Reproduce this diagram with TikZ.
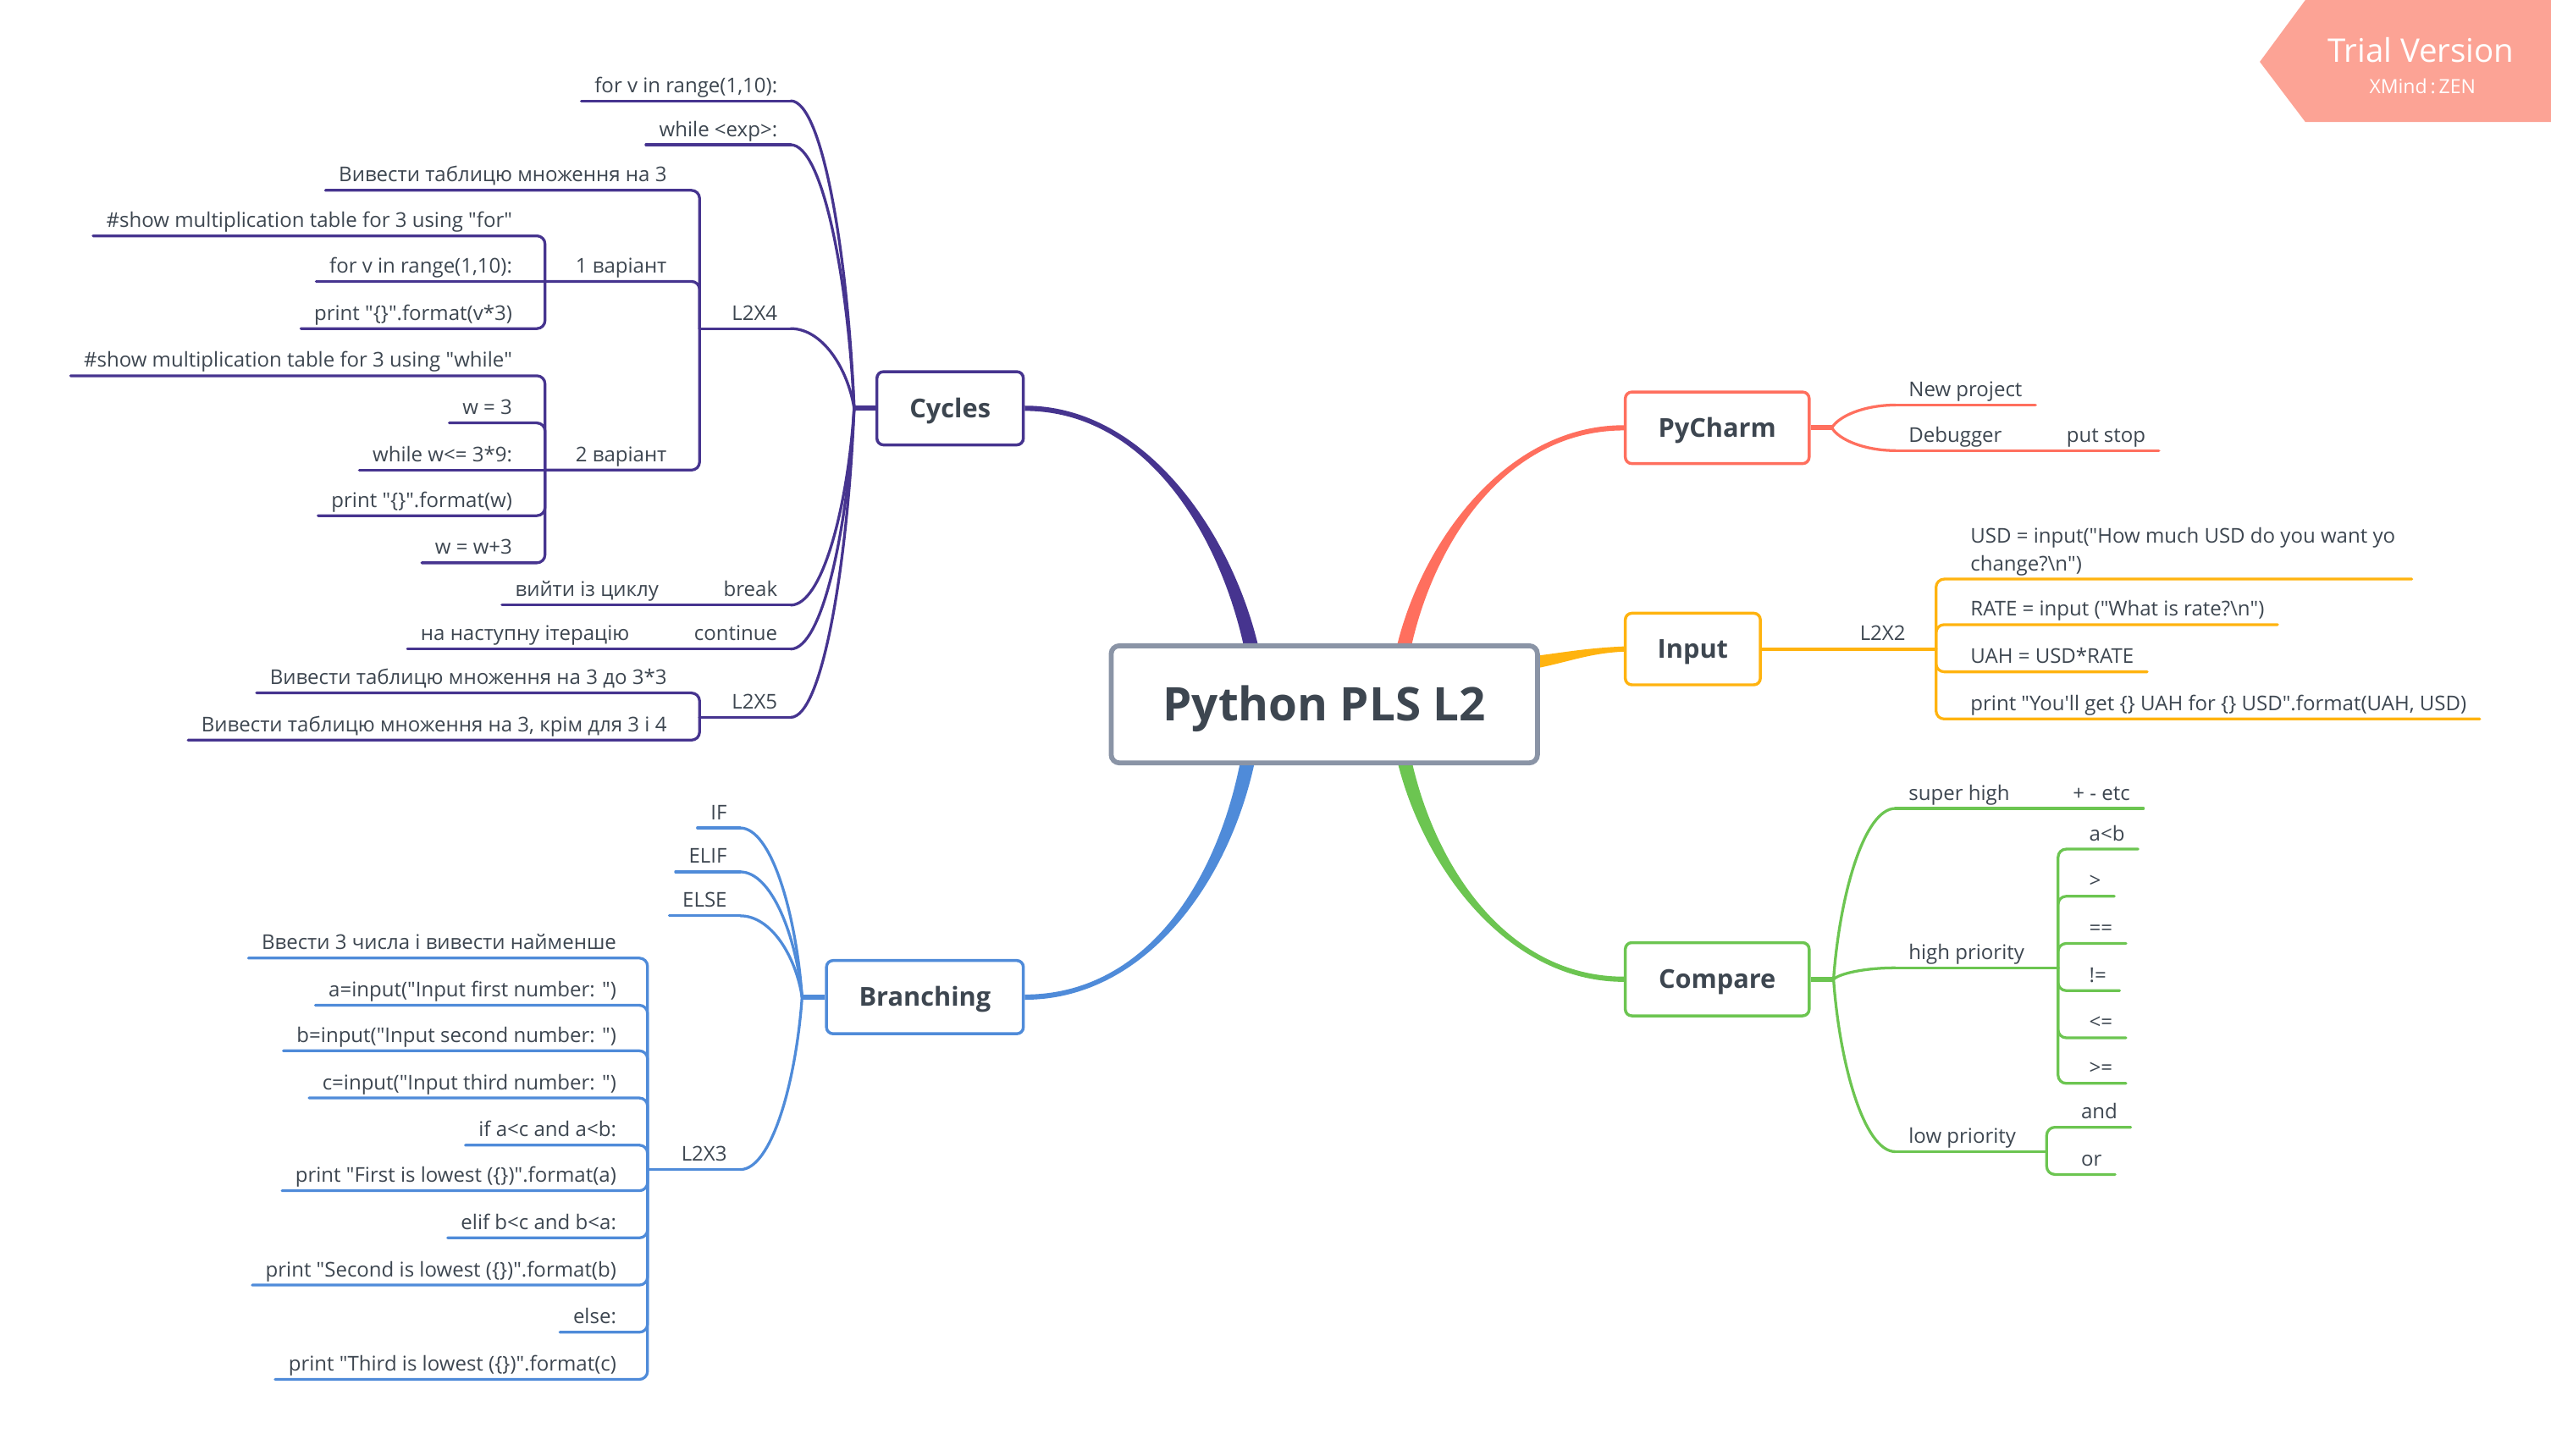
\documentclass[tikz,border=0pt]{standalone}
\usepackage{fontspec}
\setmainfont{Open Sans}
\usetikzlibrary{calc}
\definecolor{cpur}{HTML}{46348F}
\definecolor{cora}{HTML}{FF6F5E}
\definecolor{yel}{HTML}{FFB30F}
\definecolor{grn}{HTML}{6CC551}
\definecolor{blu}{HTML}{4F8BD9}
\definecolor{cbord}{HTML}{8A94A6}
\definecolor{txt}{HTML}{3D4650}
\definecolor{badge}{HTML}{FCA395}
\newcommand\q{\textquotedbl}
\tikzset{
  lf/.style={font=\fontsize{12.5}{17}\selectfont, text=txt, inner xsep=8pt, inner ysep=2pt, text height=9.5pt, text depth=3pt},
  lL/.style={lf, anchor=south east},
  lR/.style={lf, anchor=south west},
  topic/.style={draw, line width=1.8pt, rounded corners=4pt, fill=white, font=\fontsize{16}{19}\selectfont\bfseries, text=txt, inner sep=0pt, text height=11.5pt, text depth=0pt},
  ln/.style={line width=1.7pt, line cap=round},
  stub/.style={line width=3pt},
  elb/.style={line width=1.7pt, rounded corners=5pt, line cap=round},
}
\newcommand\crv[3]{\draw[ln,#1] let \p1=(#2), \p2=(#3) in (\p1) .. controls ({\x1+0.5*(\x2-\x1)},\y1) and ({\x2-0.1*(\x2-\x1)},{0.5*(\y1+\y2)}) .. (\p2);}
\begin{document}
\begin{tikzpicture}[x=1pt,y=-1pt]
\useasboundingbox (0,0) rectangle (1568,894.6);

% ---------- topic boxes (placed first for names) ----------
\node[topic, draw=cpur, minimum width=90pt, minimum height=45pt] (cyc) at (584,251) {Cycles};
\node[topic, draw=cora, minimum width=113pt, minimum height=44pt] (pyc) at (1055.5,263) {PyCharm};
\node[topic, draw=yel, minimum width=83pt, minimum height=44pt] (inp) at (1040.5,399) {Input};
\node[topic, draw=grn, minimum width=113pt, minimum height=45pt] (cmp) at (1055.5,602) {Compare};
\node[topic, draw=blu, minimum width=121pt, minimum height=45pt] (brn) at (568.5,613) {Branching};

% ---------- main tapered connectors ----------
\fill[cpur] ($(cyc.east)+(0,-1.6)$) .. controls (705,249.4) and (759,330) .. (774.5,402) -- (765.5,402) .. controls (751,330) and (705,252.6) .. ($(cyc.east)+(0,1.6)$) -- cycle;
\fill[cora] ($(pyc.west)+(0,-1.6)$) .. controls (925,261.4) and (872,335) .. (857.5,402) -- (866.5,402) .. controls (880,335) and (925,264.6) .. ($(pyc.west)+(0,1.6)$) -- cycle;
\fill[grn] ($(cmp.west)+(0,1.6)$) .. controls (925,603.6) and (872,530) .. (857.5,462) -- (866.5,462) .. controls (880,530) and (925,600.4) .. ($(cmp.west)+(0,-1.6)$) -- cycle;
\fill[blu] ($(brn.east)+(0,1.6)$) .. controls (705,614.6) and (758,540) .. (772.5,462) -- (763.5,462) .. controls (750,540) and (705,611.4) .. ($(brn.east)+(0,-1.6)$) -- cycle;
\fill[yel] ($(inp.west)+(0,-1.6)$) .. controls (975,398.4) and (962,401) .. (938,404) -- (938,412) .. controls (962,408) and (975,401.6) .. ($(inp.west)+(0,1.6)$) -- cycle;

% central
\node[draw=cbord, line width=3pt, rounded corners=5pt, fill=white, minimum width=262pt, minimum height=72pt, inner sep=0pt, font=\fontsize{28.5}{32}\selectfont\bfseries, text=txt, text height=20.5pt, text depth=0pt] (root) at (814,433) {Python PLS L2};

% ---------- Cycles ----------
\coordinate (jc) at (525,251);
\draw[stub,cpur] (cyc.west) -- (jc);
\node[lL] (c1) at (486,62) {for v in range(1,10):};
\draw[ln,cpur] (c1.south west) -- (c1.south east); \crv{cpur}{c1.south east}{jc}
\node[lL] (c2) at (486,89) {while <exp>:};
\draw[ln,cpur] (c2.south west) -- (c2.south east); \crv{cpur}{c2.south east}{jc}
\node[lL] (c3) at (486,202) {L2X4};
\coordinate (j3) at (430,202);
\draw[ln,cpur] (j3) -- (c3.south east); \crv{cpur}{c3.south east}{jc}
\node[lL] (c3a) at (418,117) {Вивести таблицю множення на 3};
\draw[elb,cpur] (j3) |- (c3a.south west);
\node[lL] (c3b) at (418,173) {1 варіант};
\coordinate (j3b) at (335,173);
\draw[elb,cpur] (j3) |- (j3b);
\node[lL] (c3c) at (418,289) {2 варіант};
\coordinate (j3c) at (335,289);
\draw[elb,cpur] (j3) |- (j3c);
\node[lL] (c3b1) at (323,145) {\#show multiplication table for 3 using \q for\q};
\draw[elb,cpur] (j3b) |- (c3b1.south west);
\node[lL] (c3b2) at (323,173) {for v in range(1,10):};
\draw[ln,cpur] (j3b) -- (c3b2.south west);
\node[lL] (c3b3) at (323,202) {print \q\{\}\q.format(v*3)};
\draw[elb,cpur] (j3b) |- (c3b3.south west);
\node[lL] (c3c1) at (323,231) {\#show multiplication table for 3 using \q while\q};
\draw[elb,cpur] (j3c) |- (c3c1.south west);
\node[lL] (c3c2) at (323,260) {w = 3};
\draw[elb,cpur] (j3c) |- (c3c2.south west);
\node[lL] (c3c3) at (323,289) {while w<= 3*9:};
\draw[ln,cpur] (j3c) -- (c3c3.south west);
\node[lL] (c3c4) at (323,317) {print \q\{\}\q.format(w)};
\draw[elb,cpur] (j3c) |- (c3c4.south west);
\node[lL] (c3c5) at (323,346) {w = w+3};
\draw[elb,cpur] (j3c) |- (c3c5.south west);
\node[lL] (c4) at (486,372) {break};
\node[lL] (c4a) at (413,372) {вийти із циклу};
\draw[ln,cpur] (c4a.south west) -- (c4.south east); \crv{cpur}{c4.south east}{jc}
\node[lL] (c5) at (486,399) {continue};
\node[lL] (c5a) at (395,399) {на наступну ітерацію};
\draw[ln,cpur] (c5a.south west) -- (c5.south east); \crv{cpur}{c5.south east}{jc}
\node[lL] (c6) at (486,441) {L2X5};
\coordinate (j6) at (430,441);
\draw[ln,cpur] (j6) -- (c6.south east); \crv{cpur}{c6.south east}{jc}
\node[lL] (c6a) at (418,426) {Вивести таблицю множення на 3 до 3*3};
\draw[elb,cpur] (j6) |- (c6a.south west);
\node[lL] (c6b) at (418,455) {Вивести таблицю множення на 3, крім для 3 і 4};
\draw[elb,cpur] (j6) |- (c6b.south west);

% ---------- Branching ----------
\coordinate (jb) at (493,613);
\draw[stub,blu] (brn.west) -- (jb);
\node[lL] (b1) at (455,509) {IF};
\draw[ln,blu] (b1.south west) -- (b1.south east); \crv{blu}{b1.south east}{jb}
\node[lL] (b2) at (455,536) {ELIF};
\draw[ln,blu] (b2.south west) -- (b2.south east); \crv{blu}{b2.south east}{jb}
\node[lL] (b3) at (455,563) {ELSE};
\draw[ln,blu] (b3.south west) -- (b3.south east); \crv{blu}{b3.south east}{jb}
\node[lL] (b4) at (455,719) {L2X3};
\coordinate (j4) at (398,719);
\draw[ln,blu] (j4) -- (b4.south east); \crv{blu}{b4.south east}{jb}
\node[lL] (b4a) at (387,589) {Ввести 3 числа і вивести найменше};
\draw[elb,blu] (j4) |- (b4a.south west);
\node[lL] (b4b) at (387,618) {a=input(\q Input first number: \q)};
\draw[elb,blu] (j4) |- (b4b.south west);
\node[lL] (b4c) at (387,646) {b=input(\q Input second number: \q)};
\draw[elb,blu] (j4) |- (b4c.south west);
\node[lL] (b4d) at (387,675) {c=input(\q Input third number: \q)};
\draw[elb,blu] (j4) |- (b4d.south west);
\node[lL] (b4e) at (387,704) {if a<c and a<b:};
\draw[elb,blu] (j4) |- (b4e.south west);
\node[lL] (b4f) at (387,732) {print \q First is lowest (\{\})\q.format(a)};
\draw[elb,blu] (j4) |- (b4f.south west);
\node[lL] (b4g) at (387,761) {elif b<c and b<a:};
\draw[elb,blu] (j4) |- (b4g.south west);
\node[lL] (b4h) at (387,790) {print \q Second is lowest (\{\})\q.format(b)};
\draw[elb,blu] (j4) |- (b4h.south west);
\node[lL] (b4i) at (387,819) {else:};
\draw[elb,blu] (j4) |- (b4i.south west);
\node[lL] (b4j) at (387,848) {print \q Third is lowest (\{\})\q.format(c)};
\draw[elb,blu] (j4) |- (b4j.south west);

% ---------- PyCharm ----------
\coordinate (jp) at (1126,263);
\draw[stub,cora] (pyc.east) -- (jp);
\node[lR] (p1) at (1165,249) {New project};
\draw[ln,cora] (p1.south west) -- (p1.south east); \crv{cora}{p1.south west}{jp}
\node[lR] (p2) at (1165,277) {Debugger};
\node[lR] (p2a) at (1262,277) {put stop};
\draw[ln,cora] (p2.south west) -- (p2a.south east); \crv{cora}{p2.south west}{jp}

% ---------- Input ----------
\node[lR] (i1) at (1135,399) {L2X2};
\coordinate (ji) at (1190,399);
\draw[line width=2.2pt,yel] (inp.east) -- (ji);
\node[font=\fontsize{12.5}{17}\selectfont, text=txt, inner xsep=10pt, inner ysep=2pt, anchor=south west, align=left] (i1a) at (1201,356) {USD = input(\q How much USD do you want yo\\change?\textbackslash n\q)};
\draw[elb,yel] (ji) |- (i1a.south east);
\node[lR] (i1b) at (1203,384) {RATE = input (\q What is rate?\textbackslash n\q)};
\draw[elb,yel] (ji) |- (i1b.south east);
\node[lR] (i1c) at (1203,413) {UAH = USD*RATE};
\draw[elb,yel] (ji) |- (i1c.south east);
\node[lR] (i1d) at (1203,442) {print \q You\textquotesingle ll get \{\} UAH for \{\} USD\q.format(UAH, USD)};
\draw[elb,yel] (ji) |- (i1d.south east);

% ---------- Compare ----------
\coordinate (jm) at (1127,602);
\draw[stub,grn] (cmp.east) -- (jm);
\node[lR] (m1) at (1165,497) {super high};
\node[lR] (m1a) at (1266,497) {+ - etc};
\draw[ln,grn] (m1.south west) -- (m1a.south east); \crv{grn}{m1.south west}{jm}
\node[lR] (m2) at (1165,595) {high priority};
\coordinate (j2) at (1265,595);
\draw[ln,grn] (m2.south west) -- (j2); \crv{grn}{m2.south west}{jm}
\node[lR] (m2a) at (1276,522) {a<b};
\draw[elb,grn] (j2) |- (m2a.south east);
\node[lR] (m2b) at (1276,551) {>};
\draw[elb,grn] (j2) |- (m2b.south east);
\node[lR] (m2c) at (1276,580) {==};
\draw[elb,grn] (j2) |- (m2c.south east);
\node[lR] (m2d) at (1276,609) {!=};
\draw[elb,grn] (j2) |- (m2d.south east);
\node[lR] (m2e) at (1276,638) {<=};
\draw[elb,grn] (j2) |- (m2e.south east);
\node[lR] (m2f) at (1276,666) {>=};
\draw[elb,grn] (j2) |- (m2f.south east);
\node[lR] (m3) at (1165,708) {low priority};
\coordinate (j3m) at (1258,708);
\draw[ln,grn] (m3.south west) -- (j3m); \crv{grn}{m3.south west}{jm}
\node[lR] (m3a) at (1271,693) {and};
\draw[elb,grn] (j3m) |- (m3a.south east);
\node[lR] (m3b) at (1271,722) {or};
\draw[elb,grn] (j3m) |- (m3b.south east);

% ---------- Trial badge ----------
\fill[badge] (1389,38) -- (1417,0) -- (1568,0) -- (1568,75) -- (1417,75) -- cycle;
\node[text=white, font=\fontsize{20}{24}\selectfont, inner sep=0pt] (tv) at (1488,31) {Trial Version};
\node[text=white, font=\fontsize{12}{14}\selectfont, inner sep=0pt] (xz) at (1489,53) {XMind\hspace{2pt}:\hspace{2pt}ZEN};
\end{tikzpicture}
\end{document}
